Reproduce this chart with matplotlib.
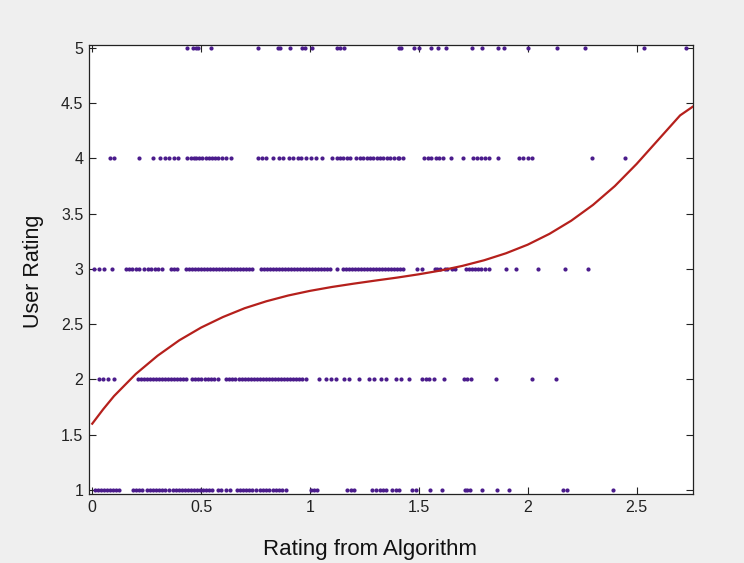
import matplotlib
matplotlib.use("Agg")
import matplotlib.pyplot as plt
from matplotlib import font_manager

# ---- data ----
x_r1 = [0.012, 0.026, 0.040, 0.054, 0.068, 0.081, 0.095, 0.109, 0.123, 0.187, 0.201, 0.215, 0.229,
        0.252, 0.265, 0.279, 0.293, 0.307, 0.320, 0.334, 0.353, 0.371, 0.385, 0.399, 0.412, 0.426,
        0.440, 0.454, 0.468, 0.481, 0.495, 0.509, 0.523, 0.537, 0.550, 0.578, 0.592, 0.615, 0.633,
        0.665, 0.679, 0.693, 0.707, 0.720, 0.734, 0.753, 0.771, 0.785, 0.799, 0.812, 0.831, 0.845,
        0.858, 0.872, 0.891, 1.006, 1.019, 1.033, 1.171, 1.190, 1.204, 1.287, 1.305, 1.323, 1.337,
        1.351, 1.378, 1.397, 1.411, 1.470, 1.489, 1.549, 1.608, 1.710, 1.723, 1.737, 1.792, 1.861,
        1.916, 2.160, 2.179, 2.390]
x_r2 = [0.031, 0.049, 0.072, 0.100, 0.210, 0.224, 0.238, 0.252, 0.265, 0.279, 0.293, 0.307, 0.320,
        0.334, 0.348, 0.362, 0.376, 0.389, 0.403, 0.417, 0.431, 0.458, 0.472, 0.486, 0.500, 0.518,
        0.532, 0.546, 0.559, 0.578, 0.615, 0.629, 0.642, 0.656, 0.674, 0.688, 0.702, 0.716, 0.730,
        0.743, 0.757, 0.771, 0.785, 0.799, 0.812, 0.826, 0.840, 0.854, 0.868, 0.881, 0.895, 0.909,
        0.923, 0.937, 0.950, 0.964, 0.983, 1.042, 1.074, 1.097, 1.120, 1.157, 1.180, 1.226, 1.272,
        1.295, 1.328, 1.350, 1.397, 1.419, 1.456, 1.516, 1.534, 1.548, 1.571, 1.617, 1.709, 1.723,
        1.741, 1.856, 2.022, 2.132]
x_r3 = [0.008, 0.031, 0.054, 0.091, 0.154, 0.169, 0.184, 0.200, 0.215, 0.238, 0.254, 0.269, 0.288,
        0.304, 0.322, 0.361, 0.376, 0.391, 0.431, 0.445, 0.458, 0.472, 0.486, 0.500, 0.514, 0.527,
        0.541, 0.555, 0.569, 0.583, 0.596, 0.610, 0.624, 0.638, 0.652, 0.665, 0.679, 0.693, 0.707,
        0.720, 0.734, 0.775, 0.789, 0.803, 0.817, 0.830, 0.844, 0.858, 0.872, 0.886, 0.899, 0.913,
        0.927, 0.941, 0.955, 0.968, 0.982, 0.996, 1.010, 1.023, 1.037, 1.051, 1.065, 1.079, 1.092,
        1.126, 1.153, 1.167, 1.180, 1.194, 1.208, 1.222, 1.235, 1.249, 1.263, 1.277, 1.291, 1.304,
        1.318, 1.332, 1.346, 1.360, 1.373, 1.387, 1.401, 1.415, 1.426, 1.493, 1.516, 1.572, 1.585,
        1.599, 1.618, 1.631, 1.650, 1.668, 1.718, 1.732, 1.746, 1.759, 1.773, 1.787, 1.805, 1.824,
        1.901, 1.947, 2.046, 2.169, 2.276]
x_r4 = [0.080, 0.100, 0.215, 0.279, 0.313, 0.333, 0.353, 0.376, 0.394, 0.437, 0.455, 0.468, 0.478,
        0.491, 0.503, 0.521, 0.537, 0.552, 0.564, 0.579, 0.595, 0.613, 0.636, 0.759, 0.779, 0.797,
        0.828, 0.858, 0.877, 0.904, 0.923, 0.943, 0.961, 0.981, 1.004, 1.027, 1.057, 1.103, 1.122,
        1.137, 1.153, 1.168, 1.183, 1.211, 1.229, 1.245, 1.260, 1.275, 1.291, 1.306, 1.321, 1.337,
        1.352, 1.367, 1.387, 1.402, 1.410, 1.429, 1.525, 1.540, 1.556, 1.579, 1.594, 1.612, 1.648,
        1.701, 1.747, 1.766, 1.786, 1.806, 1.824, 1.862, 1.962, 1.980, 2.000, 2.020, 2.296, 2.445]
x_r5 = [0.434, 0.464, 0.475, 0.486, 0.547, 0.762, 0.855, 0.863, 0.908, 0.963, 0.978, 1.009, 1.126,
        1.139, 1.154, 1.407, 1.418, 1.479, 1.502, 1.556, 1.586, 1.625, 1.744, 1.790, 1.862, 1.893,
        2.000, 2.135, 2.265, 2.534, 2.728]
ratings = [1, 2, 3, 4, 5]

fit_x = [0.0, 0.05, 0.1, 0.2, 0.3, 0.4, 0.5, 0.6, 0.7, 0.8, 0.9, 1.0, 1.1, 1.2, 1.3, 1.4, 1.5, 1.6,
         1.7, 1.8, 1.9, 2.0, 2.1, 2.2, 2.3, 2.4, 2.5, 2.6, 2.7, 2.759]
fit_y = [1.600, 1.730, 1.850, 2.050, 2.215, 2.355, 2.470, 2.565, 2.645, 2.708, 2.760, 2.802,
         2.837, 2.867, 2.895, 2.922, 2.952, 2.986, 3.028, 3.079, 3.142, 3.220, 3.318, 3.437,
         3.580, 3.750, 3.950, 4.170, 4.390, 4.470]

xticks = [0, 0.5, 1, 1.5, 2, 2.5]
xtick_labels = ["0", "0.5", "1", "1.5", "2", "2.5"]
yticks = [1, 1.5, 2, 2.5, 3, 3.5, 4, 4.5, 5]
ytick_labels = ["1", "1.5", "2", "2.5", "3", "3.5", "4", "4.5", "5"]

# ---- plot ----
plt.rcParams['font.family'] = ['Liberation Sans', 'DejaVu Sans']
names = {f.name for f in font_manager.fontManager.ttflist}
tick_family = ['Liberation Sans Narrow', 'Liberation Sans'] if 'Liberation Sans Narrow' in names else ['Liberation Sans']
tick_size = 13 if 'Liberation Sans Narrow' in names else 11.5

fig = plt.figure(figsize=(7.44, 5.63), dpi=100, facecolor='#efefef')
ax = fig.add_axes([0.1196, 0.1226, 0.8118, 0.7975])
ax.set_facecolor('white')

dot_color = '#4b1c8c'
for xs, r in zip([x_r1, x_r2, x_r3, x_r4, x_r5], ratings):
    ax.plot(xs, [r] * len(xs), linestyle='none', marker='o', markersize=3.0,
            color=dot_color, markeredgewidth=0, zorder=2)

ax.plot(fit_x, fit_y, color='#b5201c', linewidth=1.6, zorder=3)

ax.set_xlim(-0.015, 2.759)
ax.set_ylim(0.964, 5.027)
ax.set_xticks(xticks)
ax.set_xticklabels(xtick_labels, family=tick_family, fontsize=tick_size)
ax.set_yticks(yticks)
ax.set_yticklabels(ytick_labels, family=tick_family, fontsize=tick_size)
ax.tick_params(direction='in', top=True, right=True, length=5, width=0.8,
               colors='#222222', pad=4)
for s in ax.spines.values():
    s.set_linewidth(0.9)
    s.set_color('#222222')

ax.set_xlabel('Rating from Algorithm', fontsize=16, color='#111111')
ax.xaxis.set_label_coords(0.465, -0.1)
ax.set_ylabel('User Rating', fontsize=15.5, color='#111111')
ax.yaxis.set_label_coords(-0.074, 0.495)

fig.savefig('out.png', dpi=100, facecolor=fig.get_facecolor())
